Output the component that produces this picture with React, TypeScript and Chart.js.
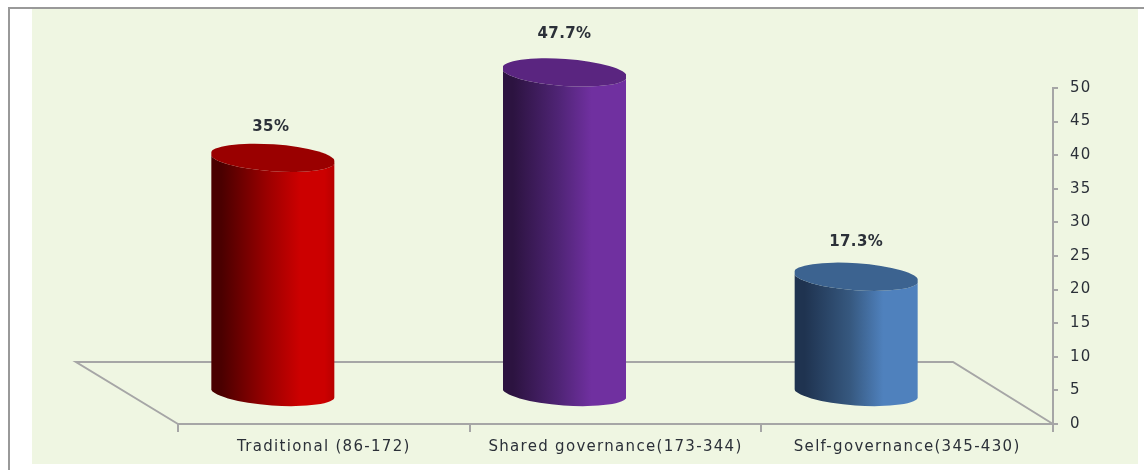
import React, { useEffect, useRef } from "react";
import { Chart, registerables } from "chart.js";

Chart.register(...registerables);

const categories = ["Traditional (86-172)", "Shared governance(173-344)", "Self-governance(345-430)"];
const values = [35, 47.7, 17.3];
const valueLabels = ["35%", "47.7%", "17.3%"];
const barColors = ["#cc0000", "#7030a0", "#4f81bd"];
const darkColors = ["#4a0000", "#2c1340", "#1f3350"];
const midColors = ["#9a0000", "#4f2475", "#36587f"];
const edgeColors = ["#b80000", "#7030a0", "#4f81bd"];
const capColors = ["#9a0000", "#5a2580", "#3c6390"];
const labelLifts = [31, 38, 35];
const labelNudges = [-2, 0, 0];
const AXIS = "#a6a6a6";
const TEXT = "#2b3038";
const FONT = "'DejaVu Sans', Verdana, sans-serif";
const DEPTH_X = -51;
const DEPTH_Y = -31;
const FLOOR_LEFT_X = -102;
const FLOOR_RIGHT_X = -100;
const FLOOR_Y = -62;
const RX = 62.6;
const RY = 13.5;
const HALF_WIDTH = 61.5;
const TILT = (4 * Math.PI) / 180;

const backdrop = {
  id: "backdrop",
  beforeDraw(chart: any) {
    const { ctx, width, height } = chart;
    ctx.save();
    ctx.fillStyle = "#ffffff";
    ctx.fillRect(0, 0, width, height);
    ctx.fillStyle = "#eff6e2";
    ctx.fillRect(32, 8, 1106, 456);
    ctx.strokeStyle = "#999999";
    ctx.lineWidth = 2;
    ctx.beginPath();
    ctx.moveTo(9, height);
    ctx.lineTo(9, 8);
    ctx.lineTo(1144, 8);
    ctx.stroke();
    ctx.restore();
    // Wide tracking used by every label in the reference
    ctx.letterSpacing = "1.3px";
  },
  beforeDatasetsDraw(chart: any) {
    const { ctx, chartArea: a } = chart;
    ctx.save();
    ctx.strokeStyle = AXIS;
    ctx.lineWidth = 2;
    ctx.beginPath();
    ctx.moveTo(a.left, a.bottom);
    ctx.lineTo(a.left + FLOOR_LEFT_X, a.bottom + FLOOR_Y);
    ctx.lineTo(a.right + FLOOR_RIGHT_X, a.bottom + FLOOR_Y);
    ctx.lineTo(a.right, a.bottom);
    ctx.stroke();
    ctx.restore();
  },
};

const cylinders = {
  id: "cylinders",
  beforeDatasetDraw(chart: any, args: any) {
    const { ctx } = chart;
    const meta = args.meta;
    meta.data.forEach((bar: any, i: number) => {
      const cx = bar.x + DEPTH_X;
      const top = bar.y + DEPTH_Y;
      const bottom = bar.base + DEPTH_Y;
      const grad = ctx.createLinearGradient(cx - HALF_WIDTH, 0, cx + HALF_WIDTH, 0);
      grad.addColorStop(0, darkColors[i]);
      grad.addColorStop(0.08, darkColors[i]);
      grad.addColorStop(0.45, midColors[i]);
      grad.addColorStop(0.72, barColors[i]);
      grad.addColorStop(0.92, barColors[i]);
      grad.addColorStop(1, edgeColors[i]);
      ctx.save();
      ctx.beginPath();
      ctx.rect(cx - HALF_WIDTH, 0, HALF_WIDTH * 2, chart.height);
      ctx.clip();
      ctx.fillStyle = grad;
      ctx.beginPath();
      ctx.ellipse(cx, top, RX, RY, TILT, Math.PI, 0, true);
      ctx.ellipse(cx, bottom, RX, RY, TILT, 0, Math.PI, false);
      ctx.closePath();
      ctx.fill();
      ctx.fillStyle = capColors[i];
      ctx.beginPath();
      ctx.ellipse(cx, top, RX, RY, TILT, 0, Math.PI * 2);
      ctx.fill();
      ctx.restore();
      ctx.save();
      ctx.fillStyle = TEXT;
      ctx.font = `bold 15px ${FONT}`;
      ctx.letterSpacing = "0.4px";
      ctx.textAlign = "center";
      ctx.textBaseline = "middle";
      ctx.fillText(valueLabels[i], cx + labelNudges[i], top - labelLifts[i]);
      ctx.restore();
    });
    return false;
  },
};

export default function App() {
  const ref = useRef<HTMLCanvasElement>(null);
  useEffect(() => {
    const chart = new Chart(ref.current!, {
      type: "bar",
      data: {
        labels: categories,
        datasets: [{ data: values, backgroundColor: barColors, barThickness: 124 }],
      },
      plugins: [backdrop, cylinders],
      options: {
        animation: false,
        responsive: false,
        layout: { autoPadding: false, padding: { left: 178, top: 88, right: 0, bottom: 0 } },
        plugins: { legend: { display: false }, tooltip: { enabled: false }, title: { display: false } },
        scales: {
          x: {
            offset: true,
            afterFit: (s: any) => { s.height = 46; },
            border: { color: AXIS, width: 2 },
            grid: { offset: true, drawOnChartArea: false, drawTicks: true, tickLength: 8, color: AXIS, lineWidth: 2 },
            ticks: { color: TEXT, font: { family: FONT, size: 15 }, padding: 6, maxRotation: 0, autoSkip: false },
          },
          y: {
            position: "right",
            min: 0,
            max: 50,
            afterFit: (s: any) => { s.width = 91; },
            border: { color: AXIS, width: 2 },
            grid: { drawOnChartArea: false, drawTicks: true, tickLength: 5, color: AXIS, lineWidth: 2 },
            ticks: { stepSize: 5, color: TEXT, font: { family: FONT, size: 15 }, padding: 12 },
          },
        },
      },
    } as any);
    return () => chart.destroy();
  }, []);
  return (
    <div style={{ position: "absolute", left: 0, top: 0, width: 1144, height: 470 }}>
      <canvas ref={ref} width={1144} height={470} style={{ display: "block", width: 1144, height: 470 }} />
    </div>
  );
}
